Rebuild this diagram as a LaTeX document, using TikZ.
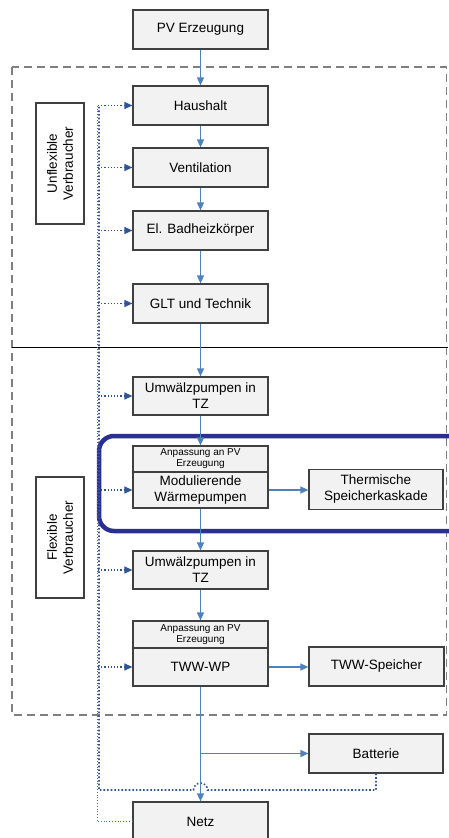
\documentclass[tikz,border=0pt]{standalone}
\usepackage{fontspec}
\setmainfont{Liberation Sans}
\usetikzlibrary{arrows.meta}
\definecolor{boxfill}{HTML}{F2F2F2}
\definecolor{boxline}{HTML}{404040}
\definecolor{flowblue}{HTML}{4F81BD}
\definecolor{dotblue}{HTML}{2F5597}
\definecolor{dotlight}{HTML}{4A6FAE}
\definecolor{navy}{HTML}{2B2F8F}
\definecolor{dashgray}{HTML}{7F7F7F}
\begin{document}
\begin{tikzpicture}[x=1pt,y=-1pt,
  box/.style={draw=boxline,fill=boxfill,line width=1.2pt,minimum width=135pt,minimum height=39pt,
    inner sep=1pt,align=center,font=\fontsize{13.5}{16}\selectfont},
  smallbox/.style={box,minimum height=26pt,font=\fontsize{10}{11}\selectfont},
  sidebox/.style={draw=boxline,fill=white,line width=1.2pt,minimum width=121pt,minimum height=48pt,
    inner sep=1pt,align=center,rotate=90,font=\fontsize{13.5}{16}\selectfont},
  flow/.style={draw=flowblue,line width=1.4pt,-{Triangle[length=8pt,width=7pt]}},
  dotarrow/.style={draw=dotblue,line width=1.2pt,dotted,-{Triangle[length=8pt,width=7pt]}},
]
\useasboundingbox (0,0) rectangle (448,838);

% regions
\draw[dashgray,line width=1.8pt,dash pattern=on 8pt off 5pt] (12,67) rectangle (446.5,715);
\draw[black,line width=0.8pt] (12,347) -- (448,347);
\draw[navy,line width=4.5pt,rounded corners=15pt] (99,436) rectangle (470,531);

% left column
\node[box] (pv) at (200.5,29.5) {PV Erzeugung};
\node[box] (haus) at (200.5,105.5) {Haushalt};
\node[box] (vent) at (200.5,167.5) {Ventilation};
\node[box] (bad) at (200.5,230.5) {El. Badheizkörper};
\node[box] (glt) at (200.5,303.5) {GLT und Technik};
\node[box,minimum height=38pt] (umw1) at (200.5,396) {Umwälzpumpen in\\TZ};
\node[smallbox] (anp1) at (200.5,459) {Anpassung an PV\\Erzeugung};
\node[box,minimum height=36pt] (mod) at (200.5,490) {Modulierende\\Wärmepumpen};
\node[box,minimum height=38pt] (umw2) at (200.5,570) {Umwälzpumpen in\\TZ};
\node[smallbox,minimum height=27pt] (anp2) at (200.5,634.5) {Anpassung an PV\\Erzeugung};
\node[box,minimum height=38pt] (tww) at (200.5,667) {TWW-WP};
\node[box] (netz) at (200.5,821.5) {Netz};

% right column
\node[box,minimum width=134pt,minimum height=40pt] (therm) at (376,489.5) {Thermische\\Speicherkaskade};
\node[box] (twws) at (376.5,666.5) {TWW-Speicher};
\node[box,minimum width=134pt] (batt) at (376,753.5) {Batterie};

% side labels
\node[sidebox] (unflex) at (60,163.5) {Unflexible\\Verbraucher};
\node[sidebox] (flex) at (60,537.5) {Flexible\\Verbraucher};

% dotted return lines
\coordinate (sp) at (98,105.5);
\coordinate (spthin) at (97,105.5);
\coordinate (spthick) at (99,105.5);
\coordinate (nl) at (97,821.5);
\coordinate (bdown) at (376,790);
\coordinate (jr) at (207.5,790);
\coordinate (bl) at (99,790);
\draw[dotlight,line width=0.8pt,dotted] (netz.west) -- (nl) -- (spthin);
\draw[dotblue,line width=1.6pt,dotted] (batt.south) -- (bdown) -- (jr)
  arc[start angle=0,end angle=180,radius=7pt] -- (bl) -- (spthick);

\foreach \n in {haus,vent,bad,glt,umw1,mod,umw2,tww}{
  \draw[dotarrow] (sp |- \n.west) -- (\n.west);
}

% flow arrows
\draw[flow] (pv) -- (haus);
\draw[flow] (haus) -- (vent);
\draw[flow] (vent) -- (bad);
\draw[flow] (bad) -- (glt);
\draw[flow] (glt) -- (umw1);
\draw[flow] (umw1) -- (anp1);
\draw[flow] (mod) -- (umw2);
\draw[flow] (umw2) -- (anp2);
\draw[flow] (tww) -- (netz);
\coordinate (br) at (tww.south |- batt.west);
\draw[flow] (br) -- (batt.west);
\draw[flow] (mod.east) -- (mod.east -| therm.west);
\draw[flow] (tww.east) -- (tww.east -| twws.west);
\end{tikzpicture}
\end{document}
